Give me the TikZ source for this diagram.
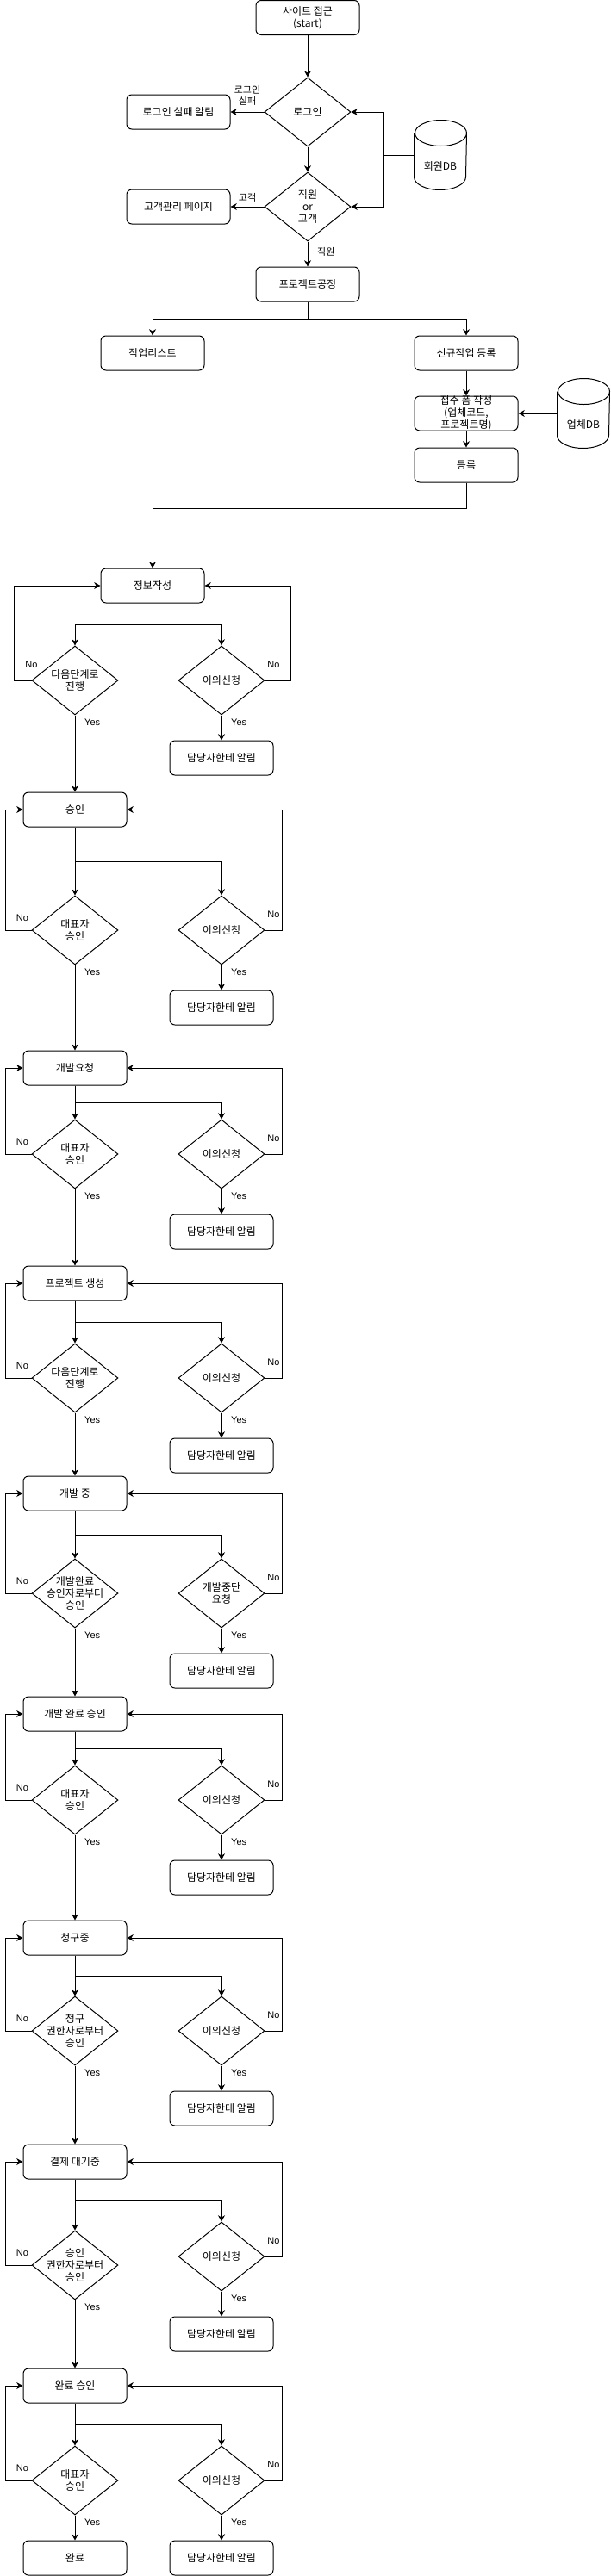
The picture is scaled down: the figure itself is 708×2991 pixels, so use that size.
\documentclass[tikz,border=0pt]{standalone}
\usepackage{fontspec}
\setmainfont{Liberation Sans}
\newfontfamily\kr{Noto Sans CJK KR}
\usepackage{tikz}
\usetikzlibrary{
  positioning,
  shapes.geometric,
  arrows.meta
}

\begin{document}
\begin{tikzpicture}[x=0.75pt,y=-0.75pt,line width=0.75pt,
  >={Stealth[length=5.5pt,width=6pt]},
  proc/.style={draw,rounded corners=4.5pt,minimum width=90pt,minimum height=30pt,
    inner sep=1pt,align=center,font=\kr\fontsize{9pt}{10.5pt}\selectfont},
  decision/.style={draw,diamond,minimum width=75pt,minimum height=60pt,inner sep=0pt},
  dtext/.style={inner sep=0pt,align=center,font=\kr\fontsize{9pt}{10.5pt}\selectfont},
  dbbox/.style={minimum width=45pt,minimum height=60pt,inner sep=0pt},
  lbl/.style={inner sep=0pt,align=center,font=\kr\fontsize{8.25pt}{10pt}\selectfont},
  yn/.style={inner sep=0pt,font=\fontsize{8.25pt}{10pt}\selectfont}]
  \useasboundingbox (0,0) rectangle (708,2991);

  % 로그인
  \node[proc] (start) at (357,20.5) {사이트 접근\\(start)};
  \node[decision,label={[dtext]center:로그인}] (login) at (357,130) {};
  \node[proc] (fail) at (207,130) {로그인 실패 알림};
  \node[decision,label={[dtext]center:직원\\or\\고객}] (role) at (357,240) {};
  \node[proc] (cust) at (207,240) {고객관리 페이지};
  \node[proc] (proj) at (357,330) {프로젝트공정};
  \draw[->] (start) -- (login);
  \draw[->] (login) -- (fail) node[midway,lbl,anchor=south,yshift=5pt]{로그인\\실패};
  \draw[->] (login) -- (role);
  \draw[->] (role) -- (cust) node[midway,lbl,anchor=south,yshift=4pt]{고객};
  \draw[->] (role) -- (proj) node[midway,lbl,anchor=west,xshift=8pt,yshift=2pt]{직원};

  % 회원DB
  \node[dbbox,label={[dtext,yshift=-10pt]center:회원DB}] (memberdb) at (511,180) {};
  \draw ([yshift=-11.25pt]memberdb.north west) -- ([yshift=11.25pt]memberdb.south west)
    arc[start angle=180,end angle=360,x radius=22.5pt,y radius=11.25pt]
    -- ([yshift=-11.25pt]memberdb.north east)
    arc[start angle=0,end angle=360,x radius=22.5pt,y radius=11.25pt];
  \coordinate (dbjoin) at (445,180);
  \draw (memberdb.west) -- (dbjoin);
  \draw[->] (dbjoin) |- (login.east);
  \draw[->] (dbjoin) |- (role.east);

  % 작업 등록
  \node[proc] (worklist) at (177,410) {작업리스트};
  \node[proc] (newwork) at (541,410) {신규작업 등록};
  \node[proc,label={[dtext]center:접수 폼 작성\\(업체코드,\\프로젝트명)}] (intake) at (541,480) {};
  \node[proc] (register) at (541,540) {등록};
  \node[dbbox,label={[dtext,yshift=-10pt]center:업체DB}] (vendordb) at (677,480) {};
  \draw ([yshift=-11.25pt]vendordb.north west) -- ([yshift=11.25pt]vendordb.south west)
    arc[start angle=180,end angle=360,x radius=22.5pt,y radius=11.25pt]
    -- ([yshift=-11.25pt]vendordb.north east)
    arc[start angle=0,end angle=360,x radius=22.5pt,y radius=11.25pt];
  \coordinate (projsplit) at (357,370);
  \draw (proj) -- (projsplit);
  \draw[->] (projsplit) -| (worklist);
  \draw[->] (projsplit) -| (newwork);
  \draw[->] (newwork) -- (intake);
  \draw[->] (vendordb) -- (intake);
  \draw[->] (intake) -- (register);

  % 정보작성
  \node[proc] (s1) at (177,680) {정보작성};
  \coordinate (merge) at (177,590);
  \draw (register) |- (merge);
  \draw[->] (worklist) -- (s1);
  \node[decision,label={[dtext]center:다음단계로\\진행}] (l1) at (87,790) {};
  \node[decision,label={[dtext]center:이의신청}] (r1) at (257,790) {};
  \node[proc] (n1) at (257,880) {담당자한테 알림};
  \coordinate (sp1) at (177,725);
  \draw (s1) -- (sp1);
  \draw[->] (sp1) -| (l1.north);
  \draw[->] (sp1) -| (r1.north);
  \draw[->] (l1.west) -- ++(-20,0) node[pos=0,yn,yshift=14pt]{No} |- (s1.west);
  \draw[->] (r1.east) -- ++(30,0) node[pos=.33,yn,yshift=14pt]{No} |- (s1.east);
  \draw[->] (r1.south) -- (n1.north) node[pos=0,yn,anchor=north west,xshift=8pt,yshift=-3pt]{Yes};

  % 단계별 승인
  \foreach \i/\sy/\sp/\ly/\ry/\ny/\stxt/\ltxt/\rtxt in {
    2/940/1000/1080/1080/1170/승인/대표자\\승인/이의신청,
    3/1240/1280/1340/1340/1430/개발요청/대표자\\승인/이의신청,
    4/1490/1535/1600/1600/1690/프로젝트 생성/다음단계로\\진행/이의신청,
    5/1734/1782/1850/1850/1940/개발 중/개발완료\\승인자로부터\\승인/개발중단\\요청,
    6/1990/2030/2090/2090/2180/개발 완료 승인/대표자\\승인/이의신청,
    7/2250/2294/2358/2358/2448/청구중/청구\\권한자로부터\\승인/이의신청,
    8/2510/2555/2630/2620/2710/결제 대기중/승인\\권한자로부터\\승인/이의신청,
    9/2770/2815/2880/2880/2970/완료 승인/대표자\\승인/이의신청}{
    \pgfmathtruncatemacro\prev{\i-1}
    \node[proc] (s\i) at (87,\sy) {\stxt};
    \draw[->] (l\prev.south) -- (s\i.north) node[pos=0,yn,anchor=north west,xshift=8pt,yshift=-3pt]{Yes};
    \node[decision,label={[dtext]center:\ltxt}] (l\i) at (87,\ly) {};
    \node[decision,label={[dtext]center:\rtxt}] (r\i) at (257,\ry) {};
    \node[proc] (n\i) at (257,\ny) {담당자한테 알림};
    \coordinate (sp\i) at (87,\sp);
    \draw (s\i.south) -- (sp\i);
    \draw[->] (sp\i) -- (l\i.north);
    \draw[->] (sp\i) -| (r\i.north);
    \draw[->] (l\i.west) -- ++(-30,0) node[pos=.35,yn,yshift=10.5pt]{No} |- (s\i.west);
    \draw[->] (r\i.east) -- ++(20,0) node[pos=.5,yn,yshift=14pt]{No} |- (s\i.east);
    \draw[->] (r\i.south) -- (n\i.north) node[pos=0,yn,anchor=north west,xshift=8pt,yshift=-3pt]{Yes};
  }

  % 완료
  \node[proc] (done) at (87,2970) {완료};
  \draw[->] (l9.south) -- (done.north) node[pos=0,yn,anchor=north west,xshift=8pt,yshift=-3pt]{Yes};
\end{tikzpicture}
\end{document}
